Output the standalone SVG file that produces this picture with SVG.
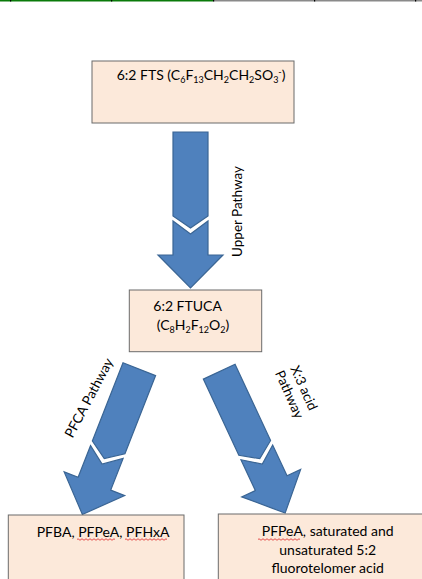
<svg xmlns="http://www.w3.org/2000/svg" width="422" height="579" viewBox="0 0 422 579">
<style>
.box{fill:#FCE9DA;stroke:#6b6b6b;stroke-width:1}
.arw{fill:#4F81BD;stroke:#3A6594;stroke-width:1.2;stroke-linejoin:miter}
.t{font-family:Lato,"Open Sans","Liberation Sans",sans-serif;font-size:14px;fill:#000}
.lbl{font-family:Lato,"Open Sans","Liberation Sans",sans-serif;font-size:13.5px;fill:#000}
.sq{fill:none;stroke:#E02828;stroke-width:0.8}
</style>
<defs>
<g id="arrow">
<path class="arw" d="M-17.5,0 L17.5,0 L17.5,84 L0,96 L-17.5,84 Z"/>
<path class="arw" d="M-17.5,89 L0,102 L17.5,89 L17.5,123 L32.5,123 L0,156 L-32.5,123 L-17.5,123 Z"/>
</g>
</defs>
<g id="topline">
<rect x="0" y="0" width="213" height="1.5" fill="#0A7A0A"/>
<rect x="213" y="0" width="209" height="1.5" fill="#8a8a8a"/>
<rect x="10" y="0" width="1.2" height="1.5" fill="#000"/>
<rect x="111" y="0" width="1.2" height="1.5" fill="#000"/>
<rect x="213" y="0" width="1.2" height="1.5" fill="#000"/>
<rect x="314" y="0" width="1.2" height="1.5" fill="#000"/>
<rect x="415" y="0" width="1.2" height="1.5" fill="#000"/>
</g>
<g id="connectors">
<use href="#arrow" transform="translate(190.5,132)"/>
<use href="#arrow" transform="translate(139.3,369.2) rotate(21.4)"/>
<use href="#arrow" transform="translate(219.2,371.7) rotate(-25)"/>
<text class="lbl" transform="translate(242,211.5) rotate(-90)" text-anchor="middle">Upper Pathway</text>
<text class="lbl" transform="translate(93,400) rotate(-62)" text-anchor="middle">PFCA Pathway</text>
<g transform="translate(297,391) rotate(66)">
<text class="lbl" x="0" y="-3" text-anchor="middle">X:3 acid</text>
<text class="lbl" x="0" y="13" text-anchor="middle">Pathway</text>
</g>
</g>
<g id="node-fts">
<rect class="box" x="92" y="61" width="202" height="62"/>
<text class="t" x="116.7" y="80.3">6:2 FTS (C<tspan font-size="9" dy="3">6</tspan><tspan dy="-3">F</tspan><tspan font-size="9" dy="3">13</tspan><tspan dy="-3">CH</tspan><tspan font-size="9" dy="3">2</tspan><tspan dy="-3">CH</tspan><tspan font-size="9" dy="3">2</tspan><tspan dy="-3">SO</tspan><tspan font-size="9" dy="3">3</tspan><tspan font-size="9" dy="-8">-</tspan><tspan dy="5">)</tspan></text>
</g>
<g id="node-ftuca">
<rect class="box" x="129.3" y="290" width="132.4" height="61.7"/>
<text class="t" x="153.3" y="311">6:2 FTUCA</text>
<text class="t" x="156.7" y="329.5">(C<tspan font-size="9" dy="3">8</tspan><tspan dy="-3">H</tspan><tspan font-size="9" dy="3">2</tspan><tspan dy="-3">F</tspan><tspan font-size="9" dy="3">12</tspan><tspan dy="-3">O</tspan><tspan font-size="9" dy="3">2</tspan><tspan dy="-3">)</tspan></text>
</g>
<g id="node-pfca">
<rect class="box" x="8.3" y="515" width="175.7" height="90"/>
<text class="t" x="36.7" y="536.7">PFBA, PFPeA, PFHxA</text>
<path class="sq" d="M77,539.5 q1,-1.5 2,0 t2,0 t2,0 t2,0 t2,0 t2,0 t2,0 t2,0 t2,0 t2,0 t2,0 t2,0 t2,0 t2,0 t2,0 t2,0 t2,0 t2,0 t2,0"/>
<path class="sq" d="M125,539.5 q1,-1.5 2,0 t2,0 t2,0 t2,0 t2,0 t2,0 t2,0 t2,0 t2,0 t2,0 t2,0 t2,0 t2,0 t2,0 t2,0 t2,0 t2,0 t2,0 t2,0 t2,0 t2,0"/>
</g>
<g id="node-x3">
<rect class="box" x="218.3" y="514" width="220" height="90"/>
<text class="t" x="327.7" y="536" text-anchor="middle">PFPeA, saturated and</text>
<text class="t" x="327.7" y="554.5" text-anchor="middle">unsaturated 5:2</text>
<text class="t" x="327.7" y="573" text-anchor="middle">fluorotelomer acid</text>
<path class="sq" d="M258,539.5 q1,-1.5 2,0 t2,0 t2,0 t2,0 t2,0 t2,0 t2,0 t2,0 t2,0 t2,0 t2,0 t2,0 t2,0 t2,0 t2,0 t2,0 t2,0 t2,0 t2,0 t2,0 t2,0"/>
</g>
</svg>
